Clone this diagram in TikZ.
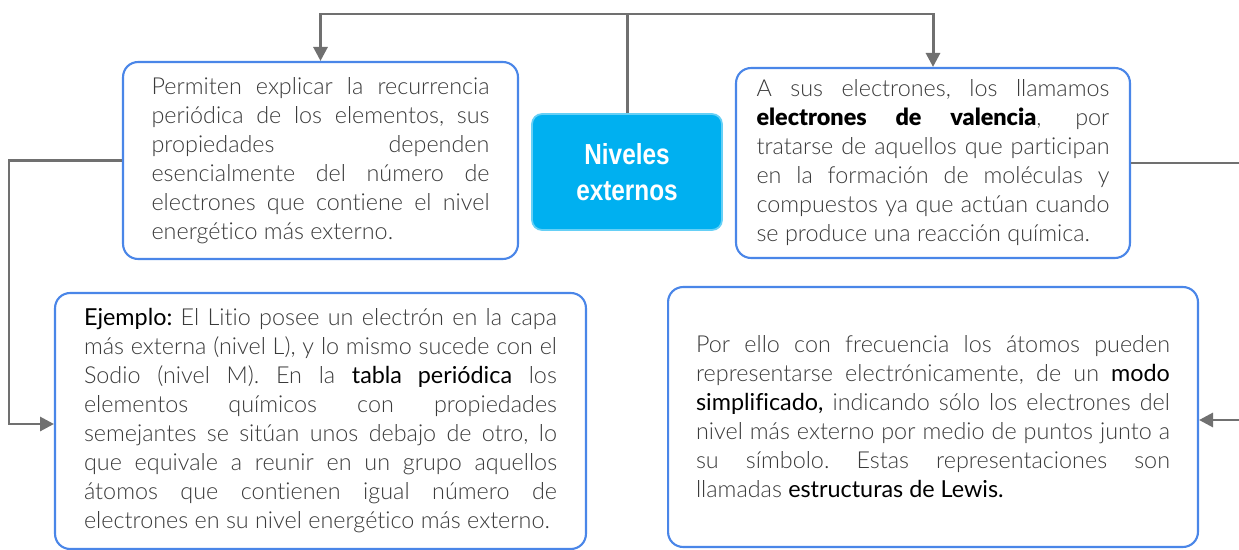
\documentclass[tikz,border=0pt]{standalone}
\usepackage{fontspec}
\setmainfont{Lato}[UprightFont={* Light},BoldFont={* Black},Ligatures=NoCommon]
\newfontfamily\latoreg{Lato}[Ligatures=NoCommon]
\newfontfamily\headfont[FakeStretch=0.84]{Liberation Sans}
\usetikzlibrary{arrows.meta,positioning}
\definecolor{boxblue}{HTML}{4A86E8}
\definecolor{linegray}{HTML}{707070}
\definecolor{nivcyan}{HTML}{00B0F0}
\definecolor{txtgray}{HTML}{3A3A3A}
\newcommand{\hl}[1]{\textcolor{black}{\latoreg #1}}
\hyphenpenalty=10000
\tolerance=10000
\frenchspacing

\begin{document}
\begin{tikzpicture}[x=0.02cm,y=-0.02cm,>={Triangle[length=0.28cm,width=0.28cm]},
  infobox/.style={draw=boxblue,line width=1.2pt,rounded corners=0.3cm,fill=white,
    align=justify,inner sep=0pt,text=txtgray,font=\fontsize{13.3}{16.5}\selectfont},
  link/.style={draw=linegray,line width=1.7pt}]
  \useasboundingbox (0,0) rectangle (1239,550);

  % central node
  \node[fill=nivcyan,draw=nivcyan!60!white,line width=1pt,rounded corners=0.2cm,
    minimum width=3.8cm,minimum height=2.32cm,align=center,text=white,
    font=\headfont\bfseries\fontsize{16.5}{20.5}\selectfont] (niv) at (627,172) {Niveles\\externos};

  % text boxes
  \node[infobox,minimum width=7.9cm,minimum height=3.94cm,text width=6.76cm] (recur) at (320.5,160.5)
    {Permiten explicar la recurrencia\linebreak
     periódica de los elementos, sus\linebreak
     propiedades dependen\linebreak
     esencialmente del número de\linebreak
     electrones que contiene el nivel\linebreak
     energético más externo.};
  \node[infobox,minimum width=7.88cm,minimum height=3.8cm,text width=7.06cm] (valen) at (933,163)
    {A sus electrones, los llamamos\linebreak
     \textcolor{black}{\bfseries electrones de valencia}, por\linebreak
     tratarse de aquellos que participan\linebreak
     en la formación de moléculas y\linebreak
     compuestos ya que actúan cuando\linebreak
     se produce una reacción química.};
  \node[infobox,minimum width=10.62cm,minimum height=5.12cm,text width=9.46cm] (ejem) at (320.5,421)
    {\hl{Ejemplo:} El Litio posee un electrón en la capa\linebreak
     más externa (nivel L), y lo mismo sucede con el\linebreak
     Sodio (nivel M). En la \hl{tabla periódica} los\linebreak
     elementos químicos con propiedades\linebreak
     semejantes se sitúan unos debajo de otro, lo\linebreak
     que equivale a reunir en un grupo aquellos\linebreak
     átomos que contienen igual número de\linebreak
     electrones en su nivel energético más externo.};
  \node[infobox,minimum width=10.6cm,minimum height=5.2cm,text width=9.48cm] (lewis) at (933,417)
    {Por ello con frecuencia los átomos pueden\linebreak
     representarse electrónicamente, de un \hl{modo}\linebreak
     \hl{simplificado,} indicando sólo los electrones del\linebreak
     nivel más externo por medio de puntos junto a\linebreak
     su símbolo. Estas representaciones son\linebreak
     llamadas \hl{estructuras de Lewis.}};

  % connectors
  \coordinate (hub) at (627,14);
  \coordinate (lbend) at (9,424);
  \coordinate (rbend) at (1245,420);
  \draw[link] (niv.north) -- (hub);
  \draw[link,->] (hub) -| (recur.north);
  \draw[link,->] (hub) -| (valen.north);
  \draw[link,->] (recur.west) -| (lbend) -- (lbend -| ejem.west);
  \draw[link,->] (valen.east) -| (rbend) -- (rbend -| lewis.east);
\end{tikzpicture}
\end{document}
